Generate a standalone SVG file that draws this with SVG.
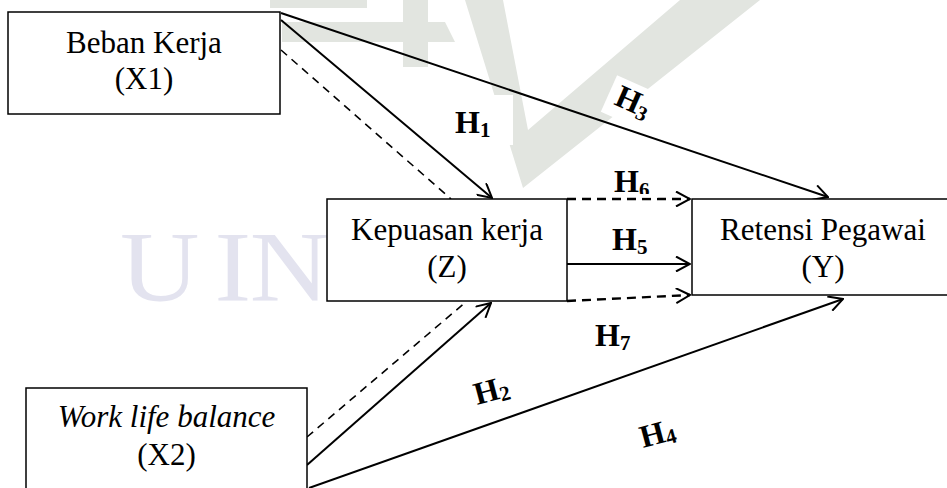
<svg xmlns="http://www.w3.org/2000/svg" width="947" height="488" viewBox="0 0 947 488">
<style>
.box{fill:#fff;stroke:#000;stroke-width:1.5}
.t{font-family:"Liberation Serif","Times New Roman",serif;font-size:31px;fill:#000;text-anchor:middle}
.h{font-family:"Liberation Serif","Times New Roman",serif;font-size:32px;font-weight:bold;fill:#000}
.s{font-size:21px}
.c{fill:none;stroke:#000;stroke-width:2}
.d{fill:none;stroke:#000;stroke-width:1.6;stroke-dasharray:8 6}
.dh{fill:none;stroke:#000;stroke-width:2.4;stroke-dasharray:9 6}
.wm{fill:#e2e5e0}
.wt{font-family:"Liberation Serif","Times New Roman",serif;font-size:100px;fill:#e3e3ef}
.bg{fill:#fff}
</style>
<defs>
<marker id="ah" viewBox="0 0 16 16" refX="15" refY="8" markerWidth="16" markerHeight="16" markerUnits="userSpaceOnUse" orient="auto">
<path d="M1,0.5 L15,8 L1,15.5" fill="none" stroke="#000" stroke-width="2"/>
</marker>
</defs>
<rect width="947" height="488" fill="#fff"/>
<g id="watermark">
<rect class="wm" x="270" y="0" width="97" height="8"/>
<rect class="wm" x="403" y="0" width="25" height="67"/>
<polygon class="wm" points="282,22 445,22 455,42 282,42"/>
<polygon class="wm" points="465,0 503,0 528,130 680,0 760,0 523,188"/>
<g transform="scale(1.1,1)">
<text class="wt" y="300"><tspan x="109">U</tspan><tspan x="195">I</tspan><tspan x="227">N</tspan></text>
</g>
</g>
<g id="label-backgrounds">
<rect class="bg" x="437" y="95" width="76" height="50"/>
<rect class="bg" x="-8" y="-28" width="54" height="40" transform="translate(613,104) rotate(24)"/>
<rect class="bg" x="590" y="166" width="80" height="30"/>
<rect class="bg" x="587" y="222" width="83" height="36"/>
<rect class="bg" x="580" y="315" width="70" height="40"/>
</g>
<g id="connectors">
<line class="c" x1="281" y1="13" x2="828" y2="197" marker-end="url(#ah)"/>
<line class="c" x1="281" y1="20" x2="492" y2="198" marker-end="url(#ah)"/>
<line class="d" x1="281" y1="50" x2="451" y2="199"/>
<line class="c" x1="307" y1="465" x2="491" y2="303" marker-end="url(#ah)"/>
<line class="d" x1="307" y1="437" x2="467" y2="301"/>
<line class="c" x1="309" y1="488" x2="843" y2="299" marker-end="url(#ah)"/>
<line class="dh" x1="567" y1="199" x2="690" y2="199" marker-end="url(#ah)"/>
<line class="c" x1="567" y1="264" x2="690" y2="264" marker-end="url(#ah)"/>
<line class="dh" x1="567" y1="301" x2="690" y2="295" marker-end="url(#ah)"/>
</g>
<g id="labels">
<g id="lbl-h1"><text class="h" x="455" y="133">H<tspan class="s" dy="4">1</tspan></text></g>
<g id="lbl-h3" transform="translate(613,104) rotate(24)"><text class="h" x="0" y="0">H<tspan class="s" dy="4">3</tspan></text></g>
<g id="lbl-h6"><text class="h" x="614" y="192">H<tspan class="s" dy="5">6</tspan></text><rect x="640" y="194" width="18" height="3.5" fill="#fff"/></g>
<g id="lbl-h5"><text class="h" x="612" y="250">H<tspan class="s" dy="4">5</tspan></text></g>
<g id="lbl-h7"><text class="h" x="595" y="346">H<tspan class="s" dy="4">7</tspan></text></g>
<g id="lbl-h2" transform="translate(477,405) rotate(-15)"><text class="h" x="0" y="0">H<tspan class="s" dy="3">2</tspan></text></g>
<g id="lbl-h4" transform="translate(643,448) rotate(-15)"><text class="h" x="0" y="0">H<tspan class="s" dy="3">4</tspan></text></g>
</g>
<g id="node-x1">
<rect class="box" x="8" y="12" width="272" height="102"/>
<text class="t" x="144" y="53">Beban Kerja</text>
<text class="t" x="144" y="89">(X1)</text>
</g>
<g id="node-z">
<rect class="box" x="327" y="199" width="240" height="102"/>
<text class="t" x="447" y="240">Kepuasan kerja</text>
<text class="t" x="447" y="277">(Z)</text>
</g>
<g id="node-y">
<rect class="box" x="692" y="199" width="265" height="96"/>
<text class="t" x="823" y="240">Retensi Pegawai</text>
<text class="t" x="823" y="277">(Y)</text>
</g>
<g id="node-x2">
<rect class="box" x="26" y="388" width="281" height="110"/>
<text class="t" x="166.5" y="427" font-style="italic">Work life balance</text>
<text class="t" x="166.5" y="465">(X2)</text>
</g>
</svg>
